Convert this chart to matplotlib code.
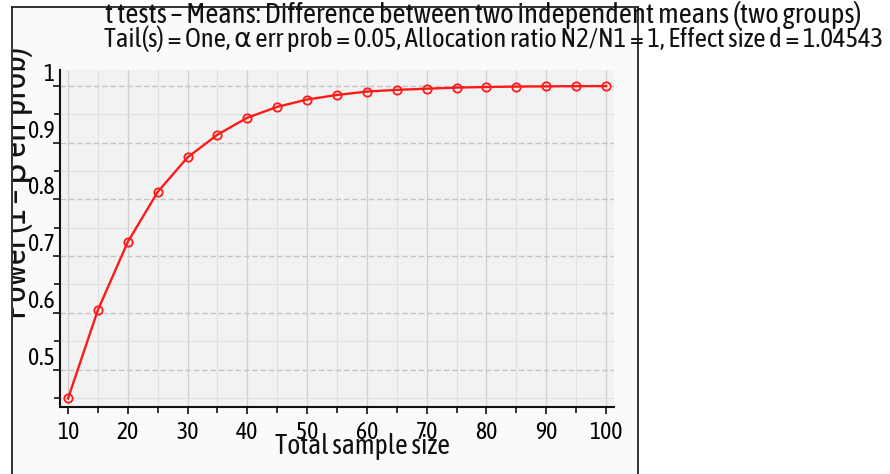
import matplotlib
matplotlib.use("Agg")
import matplotlib.pyplot as plt
from matplotlib import font_manager as fm
from matplotlib.lines import Line2D
from matplotlib.ticker import MultipleLocator
from matplotlib.transforms import Bbox

sample_size = [10, 15, 20, 25, 30, 35, 40, 45, 50, 55,
               60, 65, 70, 75, 80, 85, 90, 95, 100]
power = [0.449, 0.605, 0.725, 0.813, 0.874, 0.914, 0.944, 0.963, 0.976, 0.984,
         0.990, 0.993, 0.995, 0.997, 0.998, 0.9988, 0.9992, 0.9995, 0.9997]

x_ticks = [10, 20, 30, 40, 50, 60, 70, 80, 90, 100]
y_ticks = [0.5, 0.6, 0.7, 0.8, 0.9, 1.0]
y_tick_labels = ["0.5", "0.6", "0.7", "0.8", "0.9", "1"]

title_1 = "t tests – Means: Difference between two independent means (two groups)"
title_2 = ("Tail(s) = One, α err prob = 0.05, Allocation ratio N2/N1 = 1, "
           "Effect size d = 1.04543")
x_label = "Total sample size"
y_label = "Power (1 – β err prob)"

# narrow font if there is one, else plain sans
installed = {f.name for f in fm.fontManager.ttflist}
NARROW = "Asap Condensed" in installed
plt.rcParams['font.family'] = ["Asap Condensed", "DejaVu Sans"] if NARROW else ["Liberation Sans", "DejaVu Sans"]

W, H = 890, 474
fig = plt.figure(figsize=(W / 100, H / 100), dpi=100)
fig.patch.set_facecolor("white")


def px(x, y):
    """pixel coords (top-left origin) -> figure fraction"""
    return x / W, 1 - y / H


def fit_text(x, y, s, length, vertical=False, **kw):
    """place text and scale its size so it spans `length` pixels"""
    t = fig.text(*px(x, y), s, **kw)
    ext = t.get_window_extent(fig.canvas.get_renderer())
    t.set_fontsize(t.get_fontsize() * length / (ext.height if vertical else ext.width))
    return t


# window background + frame
win_l, win_r, win_t = 12, 638, 7
fig.patches.append(plt.Rectangle(px(win_l, H), (win_r - win_l) / W, (H - win_t) / H,
                                 transform=fig.transFigure, facecolor="#fafafa",
                                 edgecolor="none", zorder=-5))
for xs, ys in [((win_l, win_l), (win_t, H)), ((win_r, win_r), (win_t, H)),
               ((win_l, win_r), (win_t, win_t))]:
    fig.lines.append(Line2D([x / W for x in xs], [1 - y / H for y in ys],
                            transform=fig.transFigure, color="#222222", lw=1.3, zorder=-4))

# ─── Axes ─────────────────────────────────────────────────────────────────────
ax_l, ax_r, ax_t, ax_b = 60, 614, 70, 407
ax = fig.add_axes([ax_l / W, 1 - ax_b / H, (ax_r - ax_l) / W, (ax_b - ax_t) / H])
ax.set_facecolor("#f2f2f2")
ax.set_xlim(8.66, 101.34)
ax.set_ylim(0.434, 1.028)

ax.xaxis.set_minor_locator(MultipleLocator(5))
ax.yaxis.set_minor_locator(MultipleLocator(0.05))

ax.grid(which="major", axis="x", color="#d0d0d0", lw=0.9)
ax.grid(which="minor", axis="x", color="#e0e0e0", lw=0.8)
ax.grid(which="major", axis="y", color="#c4c4c4", lw=1.0, ls=(0, (4, 2)))
ax.grid(which="minor", axis="y", color="#e0e0e0", lw=0.8)
ax.set_axisbelow(True)

for s in ("top", "right"):
    ax.spines[s].set_visible(False)
for s in ("left", "bottom"):
    ax.spines[s].set_linewidth(1.5)
    ax.spines[s].set_color("#111111")

lab_size = 17 if NARROW else 13
ax.tick_params(which="both", direction="out", color="#111111", width=1.2)
ax.tick_params(which="major", length=5)
ax.tick_params(which="minor", length=4)
ax.tick_params(axis="x", labelsize=lab_size, pad=5)
ax.tick_params(axis="y", labelsize=lab_size, pad=-1)

ax.set_xticks(x_ticks)
ax.set_xticklabels([str(v) for v in x_ticks])
ax.set_yticks(y_ticks)
ax.set_yticklabels(y_tick_labels)
for lab in ax.get_yticklabels():
    lab.set_verticalalignment("bottom")

ax.plot(sample_size, power, color="#ff1a1a", lw=1.7, marker="o", ms=6,
        mfc="none", mec="#ff1a1a", mew=1.3, clip_on=False)

# ─── Texts ────────────────────────────────────────────────────────────────────
fit_text(483, 15, title_1, 758, ha="center", va="center", fontsize=16, color="#111111")
fit_text(494, 39, title_2, 782, ha="center", va="center", fontsize=16, color="#111111")
fit_text(362, 446, x_label, 176, ha="center", va="center", fontsize=16, color="#111111")
# y label: baseline near x=26, its top is hidden behind the window edge
yl = fit_text(26, 183, y_label, 271, vertical=True, ha="center", va="baseline",
              rotation=90, rotation_mode="anchor", fontsize=16, color="#111111")
yl.set_clip_box(Bbox([[win_l + 1, 0], [W, H]]))

fig.savefig("out.png", dpi=100)
